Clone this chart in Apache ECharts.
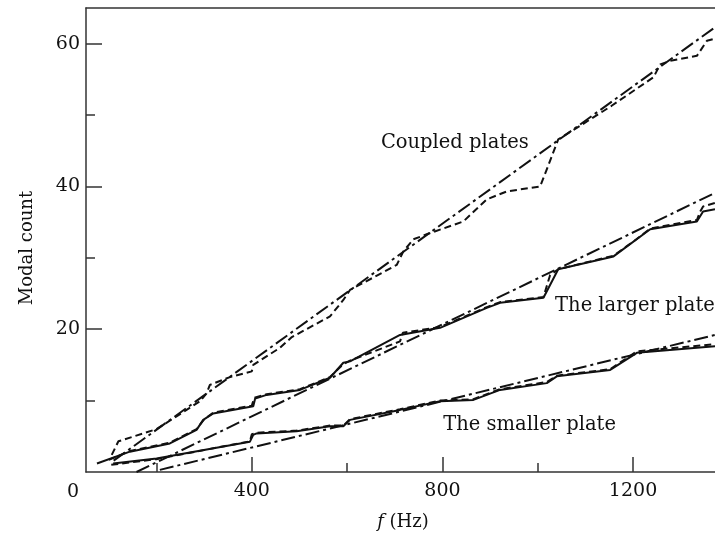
<!DOCTYPE html>
<html><head><meta charset="utf-8">
<script src="https://cdn.jsdelivr.net/npm/echarts@6/dist/echarts.min.js"></script>
<style>html,body{margin:0;padding:0;background:#fff}#c{width:715px;height:535px}</style>
</head><body><div id="c"></div>
<script>
// ---- tick values ----
const xMajorTicks = [400, 800, 1200];
const xMinorTicks = [200, 600, 1000];
const yMajorTicks = [20, 40, 60];
const yMinorTicks = [10, 30, 50];

// ---- Coupled plates ----
const coupledDashed = [[106,2.4],[120,4.3],[200,6.0],[291,9.9],[305,11.0],[312,12.2],[354,13.3],[400,14.1],[403,15.0],[459,17.4],[484,18.9],[564,21.8],[592,24.1],[606,25.5],[704,29.0],[718,30.9],[739,32.6],[767,33.3],[844,35.1],[893,38.2],[935,39.3],[1005,40.0],[1019,42.4],[1043,46.6],[1089,48.5],[1155,51.3],[1243,55.3],[1257,57.1],[1278,57.6],[1334,58.3],[1355,60.4],[1372,60.7]];
const coupledFit = [[110,1.6],[1372,62.3]];

// ---- The larger plate ----
const largerSolid = [[75,1.2],[144,2.85],[228,4.0],[284,5.9],[298,7.3],[319,8.2],[403,9.2],[407,10.3],[431,10.8],[501,11.5],[564,13.2],[592,15.3],[606,15.5],[711,19.2],[795,20.2],[893,23.0],[921,23.7],[1012,24.4],[1043,28.4],[1159,30.2],[1236,34.0],[1334,35.1],[1347,36.5],[1372,36.8]];
const largerDashed = [[100,1.7],[144,2.95],[228,4.1],[284,6.0],[300,7.4],[319,8.3],[400,9.3],[405,10.4],[431,10.9],[501,11.6],[564,13.3],[590,15.0],[606,15.6],[711,18.3],[717,19.5],[795,20.3],[893,23.1],[921,23.8],[1012,24.5],[1026,27.6],[1043,28.4],[1159,30.3],[1207,32.6],[1236,34.1],[1334,35.3],[1341,36.5],[1347,37.2],[1372,37.7]];
const largerFit = [[158,0],[1372,39.1]];

// ---- The smaller plate ----
const smallerSolid = [[109,1.2],[200,1.9],[396,4.25],[403,5.2],[410,5.4],[494,5.7],[564,6.4],[592,6.4],[606,7.3],[711,8.7],[795,9.9],[865,10.1],[893,10.8],[921,11.5],[1019,12.45],[1040,13.4],[1152,14.3],[1208,16.7],[1372,17.6]];
const smallerDashed = [[105,1.0],[200,1.8],[396,4.3],[400,5.3],[410,5.5],[494,5.8],[564,6.5],[592,6.5],[606,7.4],[711,8.8],[795,10.0],[865,10.2],[893,10.9],[921,11.6],[1019,12.6],[1040,13.5],[1152,14.4],[1208,16.9],[1372,17.9]];
const smallerFit = [[207,0.3],[1372,19.2]];

// ---- annotations (data coords) ----
const annotations = [
  {text: 'Coupled plates', at: [826, 46.1]},
  {text: 'The larger plate', at: [1204, 23.3]},
  {text: 'The smaller plate', at: [983, 6.6]}
];

const FONT = 'DejaVu Serif';
const INK = '#111';
const AX = '#333';
const dashStyle = [7, 4];
const dashDot = [14, 4, 3, 4];

function line(data, type) {
  return {type: 'line', data: data, showSymbol: false, symbol: 'none', silent: true,
    lineStyle: {color: INK, width: 2, type: type}, z: 3, animation: false};
}
const plain = v => String(v);

const chart = echarts.init(document.getElementById('c'), null, {renderer: 'canvas'});
const X = {min: 52, max: 1372};
const Y = {min: 0, max: 65};
chart.setOption({
  animation: false,
  backgroundColor: '#fff',
  grid: {left: 86, top: 8, width: 629, height: 464, outerBoundsMode: 'none'},
  xAxis: [
    {type: 'value', min: X.min, max: X.max, position: 'bottom',
      axisLine: {show: true, onZero: false, lineStyle: {color: AX, width: 1.5}},
      axisTick: {show: true, inside: true, length: 15, customValues: xMajorTicks, lineStyle: {color: AX, width: 1.5}},
      axisLabel: {show: true, customValues: xMajorTicks, formatter: plain, margin: 10, fontFamily: FONT, fontSize: 19, color: INK},
      splitLine: {show: false}},
    {type: 'value', min: X.min, max: X.max, position: 'bottom',
      axisLine: {show: false},
      axisTick: {show: true, inside: true, length: 9, customValues: xMinorTicks, lineStyle: {color: AX, width: 1.5}},
      axisLabel: {show: false}, splitLine: {show: false}},
    {type: 'value', min: X.min, max: X.max, position: 'top',
      axisLine: {show: true, onZero: false, lineStyle: {color: AX, width: 1.5}},
      axisTick: {show: false}, axisLabel: {show: false}, splitLine: {show: false}}
  ],
  yAxis: [
    {type: 'value', min: Y.min, max: Y.max, position: 'left',
      axisLine: {show: true, onZero: false, lineStyle: {color: AX, width: 1.5}},
      axisTick: {show: true, inside: true, length: 16, customValues: yMajorTicks, lineStyle: {color: AX, width: 1.5}},
      axisLabel: {show: true, customValues: yMajorTicks, formatter: plain, margin: 6, fontFamily: FONT, fontSize: 19, color: INK},
      splitLine: {show: false}},
    {type: 'value', min: Y.min, max: Y.max, position: 'left',
      axisLine: {show: false},
      axisTick: {show: true, inside: true, length: 9, customValues: yMinorTicks, lineStyle: {color: AX, width: 1.5}},
      axisLabel: {show: false}, splitLine: {show: false}}
  ],
  series: [
    line(coupledDashed, dashStyle),
    line(coupledFit, dashDot),
    line(largerSolid, 'solid'),
    line(largerDashed, dashStyle),
    line(largerFit, dashDot),
    line(smallerSolid, 'solid'),
    line(smallerDashed, dashStyle),
    line(smallerFit, dashDot)
  ]
});

const F19 = '19px "' + FONT + '"';
const g = [
  {type: 'text', x: 73, y: 492, style: {text: '0', font: F19, fill: INK, align: 'center', verticalAlign: 'middle'}},
  {type: 'text', x: 27, y: 248, rotation: Math.PI / 2, style: {text: 'Modal count', font: '18px "' + FONT + '"', fill: INK, align: 'center', verticalAlign: 'middle'}},
  {type: 'text', x: 403, y: 522, style: {
    text: '{i|f} (Hz)', font: '18px "' + FONT + '"', fill: INK, align: 'center', verticalAlign: 'middle',
    rich: {i: {fontStyle: 'italic', fontFamily: FONT, fontSize: 18, fill: INK}}}}
];
annotations.forEach(a => {
  const p = chart.convertToPixel({xAxisIndex: 0, yAxisIndex: 0}, a.at);
  g.push({type: 'text', x: p[0], y: p[1], style: {text: a.text, font: '19.5px "' + FONT + '"', fill: INK, align: 'center', verticalAlign: 'middle'}, z: 10});
});
chart.setOption({graphic: g});
</script>
</body></html>
